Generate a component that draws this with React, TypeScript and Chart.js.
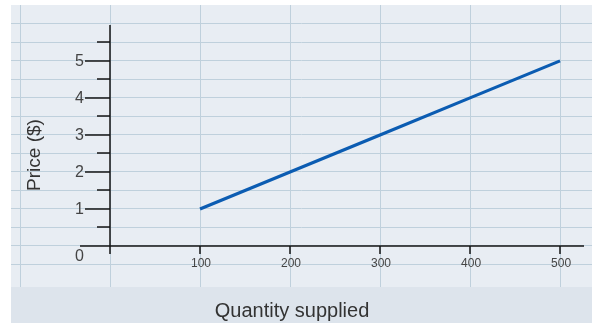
import React, { useEffect, useRef } from "react";
import { Chart, registerables } from "chart.js";

Chart.register(...registerables);

// Data
const quantities = [100, 200, 300, 400, 500];
const prices = [1, 2, 3, 4, 5];

// Tick labels
const xTickLabels = [100, 200, 300, 400, 500];
const yTickLabels = [1, 2, 3, 4, 5];
const yZeroLabel = "0";
const yMinorTicks = [0.5, 1.5, 2.5, 3.5, 4.5, 5.5];

// Grid positions
const xGridValues = [-100, 0, 100, 200, 300, 400, 500];
const yGridValues = [-0.5, 0, 0.5, 1, 1.5, 2, 2.5, 3, 3.5, 4, 4.5, 5, 5.5, 6];

const xTitle = "Quantity supplied";
const yTitle = "Price ($)";

const FONT = '"Liberation Sans", Arial, Helvetica, sans-serif';

const decorPlugin = {
  id: "decor",
  beforeDraw(chart: any) {
    const { ctx, chartArea } = chart;
    ctx.save();
    ctx.fillStyle = "#e8edf3";
    ctx.fillRect(chartArea.left, chartArea.top, chartArea.right - chartArea.left, chartArea.bottom - chartArea.top);
    ctx.fillStyle = "#dde4ec";
    ctx.fillRect(chartArea.left, chartArea.bottom, chartArea.right - chartArea.left, 36);
    ctx.restore();
  },
  beforeDatasetsDraw(chart: any) {
    const { ctx, chartArea } = chart;
    const xs = chart.scales.x;
    const ys = chart.scales.y;
    const x0 = Math.round(xs.getPixelForValue(0));
    const y0 = Math.round(ys.getPixelForValue(0));
    ctx.save();
    ctx.strokeStyle = "#151515";
    ctx.lineWidth = 1.5;
    ctx.beginPath();
    // y axis
    ctx.moveTo(x0, 25);
    ctx.lineTo(x0, y0 + 8);
    // x axis
    ctx.moveTo(x0 - 30, y0);
    ctx.lineTo(chartArea.right - 8, y0);
    // y ticks
    yMinorTicks.forEach((v) => {
      const y = Math.round(ys.getPixelForValue(v));
      ctx.moveTo(x0 - 13, y);
      ctx.lineTo(x0, y);
    });
    yTickLabels.forEach((v) => {
      const y = Math.round(ys.getPixelForValue(v));
      ctx.moveTo(x0 - 25, y);
      ctx.lineTo(x0, y);
    });
    // x ticks
    xTickLabels.forEach((v) => {
      const x = Math.round(xs.getPixelForValue(v));
      ctx.moveTo(x, y0);
      ctx.lineTo(x, y0 + 8);
    });
    ctx.stroke();

    // labels
    ctx.fillStyle = "#444";
    ctx.font = "16px " + FONT;
    ctx.textAlign = "right";
    ctx.textBaseline = "middle";
    yTickLabels.forEach((v) => {
      ctx.fillText(String(v), x0 - 26, ys.getPixelForValue(v) + 1);
    });
    ctx.fillText(yZeroLabel, x0 - 26, y0 + 11);

    ctx.font = "12px " + FONT;
    ctx.textAlign = "center";
    xTickLabels.forEach((v) => {
      ctx.fillText(String(v), xs.getPixelForValue(v) + 1, y0 + 18);
    });

    // titles
    ctx.fillStyle = "#333";
    ctx.font = "20px " + FONT;
    ctx.textAlign = "center";
    ctx.textBaseline = "middle";
    ctx.fillText(xTitle, 292, 311);

    ctx.save();
    ctx.translate(35, 155);
    ctx.rotate(-Math.PI / 2);
    ctx.font = "19px " + FONT;
    ctx.fillText(yTitle, 0, 0);
    ctx.restore();

    ctx.restore();
  },
};

export default function App() {
  const ref = useRef<HTMLCanvasElement>(null);

  useEffect(() => {
    if (!ref.current) return;
    const chart = new Chart(ref.current, {
      type: "line",
      data: {
        datasets: [
          {
            data: quantities.map((q, i) => ({ x: q, y: prices[i] })),
            borderColor: "#0b5cb2",
            borderWidth: 3.2,
            pointRadius: 0,
            fill: false,
            tension: 0,
          },
        ],
      },
      options: {
        responsive: false,
        animation: false,
        layout: { padding: { left: 11, right: 6, top: 5, bottom: 37 } },
        plugins: {
          legend: { display: false },
          tooltip: { enabled: false },
        },
        scales: {
          x: {
            type: "linear",
            min: -110,
            max: 535.5,
            afterBuildTicks: (scale: any) => {
              scale.ticks = xGridValues.map((v) => ({ value: v }));
            },
            ticks: { display: false },
            border: { display: false },
            grid: { color: "#bfd0dc", lineWidth: 1, drawTicks: false },
          },
          y: {
            type: "linear",
            min: -1.11,
            max: 6.51,
            afterBuildTicks: (scale: any) => {
              scale.ticks = yGridValues.map((v) => ({ value: v }));
            },
            ticks: { display: false },
            border: { display: false },
            grid: { color: "#bfd0dc", lineWidth: 1, drawTicks: false },
          },
        },
      },
      plugins: [decorPlugin],
    });
    return () => chart.destroy();
  }, []);

  return (
    <div style={{ position: "fixed", left: 0, top: 0, width: 598, height: 324, background: "#fff" }}>
      <canvas ref={ref} width={598} height={324} style={{ display: "block" }} />
    </div>
  );
}
